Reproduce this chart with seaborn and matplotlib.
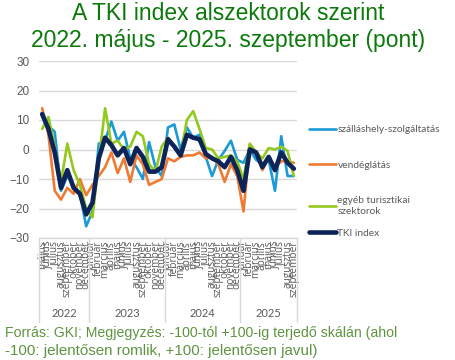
import numpy as np
import pandas as pd
import matplotlib
matplotlib.use('Agg')
import matplotlib.pyplot as plt
import matplotlib.transforms as mtransforms
from matplotlib.lines import Line2D
import seaborn as sns

# ---------------- data ----------------
month_names = ['január', 'február', 'március', 'április', 'május', 'június',
               'július', 'augusztus', 'szeptember', 'október', 'november', 'december']
years = [2022, 2023, 2024, 2025]
first_month = 5   # 2022. május
last_month = 9    # 2025. szeptember

szallashely = [12, 8, 6, -14, -9, -12, -15, -26, -21,
               2, 3, 9.5, 3, 6, -3, -6, -10, 2.5, -6, -9,
               7.5, 8.5, 0, 7.5, 4, 5, -2.5, -9, -3.5, -0.5, 3, -3.5,
               -4.5, 0, -3.5, -5, -3.5, -14, 4.5, -9, -9]
vendeglatas = [14, 5, -14, -17, -13, -15, -10, -15.5, -12,
               -9, -6, -1, -8, -3, -11, -2, -5, -12, -11, -10,
               -3, -4, -2.5, -2, -2, -1, -3, -2.5, -5, -11, -5, -9,
               -21, 1.5, -1, -7, -2.5, -6, -4, -4, -4.5]
egyeb = [7, 11, 1, -11, 2, -7, -12, -20, -23,
         -4, 14, 2, 3, 0, 1, 6, 4.5, -5, -7.5, 1,
         4, 1, -2, 10, 13, 7, 0.5, 0, -3, -2.5, -2, -4,
         -10, 2, -1, -3, 0.5, 0, 1, -0.5, -9]
tki = [12, 7, -1, -13, -7, -13, -15, -22, -18,
       -3, 4, 1.5, -2, 0.5, -5, 0.5, -2.5, -7.5, -7.5, -6,
       3.5, 1, -2, 5, 4, 3.5, -1.5, -3, -4, -6, -2.5, -7,
       -14, 0, -1, -6, -2.5, -7, -1, -4.5, -6.5]

series_names = ['szálláshely-szolgáltatás', 'vendéglátás',
                'egyéb turisztikai\nszektorok', 'TKI index']
y_ticks = [30, 20, 10, 0, -10, -20, -30]
title_lines = ['A TKI index alszektorok szerint',
               '2022. május - 2025. szeptember (pont)']
note_lines = ['Forrás: GKI; Megjegyzés: -100-tól +100-ig terjedő skálán (ahol',
              '-100: jelentősen romlik, +100: jelentősen javul)']

# ---------------- style ----------------
colors = ['#1C9AD6', '#EF7B32', '#93C91F', '#0C2457']
widths = [1.9, 1.9, 1.9, 3.3]
grey_txt = '#595959'
grid_col = '#D9D9D9'

sns.set_style('white')
plt.rcParams['font.family'] = ['Lato', 'DejaVu Sans']

# month / year sequence
labels, label_years = [], []
for y in years:
    start = first_month if y == years[0] else 1
    end = last_month if y == years[-1] else 12
    for m in range(start, end + 1):
        labels.append(month_names[m - 1])
        label_years.append(y)
n = len(labels)
idx = np.arange(n)

df = pd.DataFrame({'idx': idx,
                   series_names[0]: szallashely,
                   series_names[1]: vendeglatas,
                   series_names[2]: egyeb,
                   series_names[3]: tki})

fig = plt.figure(figsize=(4.56, 3.6), dpi=100)
W, H = 456, 360
ax = fig.add_axes([39 / W, 1 - 238 / H, 258 / W, 177 / H])

for name, c, w in zip(series_names, colors, widths):
    sns.lineplot(data=df, x='idx', y=name, ax=ax, color=c, linewidth=w,
                 label=name)

ax.set_ylim(-30, 30)
ax.set_yticks(y_ticks)
ax.set_xlim(-0.5, n - 0.5)
ax.set_xticks(idx)
ax.set_xticklabels(labels, rotation=90, fontsize=7.3, color=grey_txt,
                   family=['Open Sans', 'DejaVu Sans'])
ax.tick_params(axis='x', length=0, pad=2)
ax.tick_params(axis='y', length=0, pad=7, labelsize=8.5, labelcolor=grey_txt)
for lab in ax.get_yticklabels():
    lab.set_fontfamily(['Liberation Sans', 'DejaVu Sans'])
ax.set_xlabel('')
ax.set_ylabel('')
ax.grid(axis='y', color=grid_col, linewidth=1.0)
ax.grid(axis='x', visible=False)
ax.set_axisbelow(True)
for s in ['top', 'right', 'left']:
    ax.spines[s].set_visible(False)
ax.spines['bottom'].set_color(grid_col)
ax.spines['bottom'].set_linewidth(1.0)

# year groups: separators and labels
trans = mtransforms.blended_transform_factory(ax.transData, ax.transAxes)
bounds = [-0.5]
for y in years:
    bounds.append(bounds[-1] + label_years.count(y))
for b in bounds:
    ax.add_line(Line2D([b, b], [0, -0.475], transform=trans, color=grid_col,
                       linewidth=1.0, clip_on=False))
for i, y in enumerate(years):
    ax.text((bounds[i] + bounds[i + 1]) / 2, -0.424, str(y), transform=trans,
            ha='center', va='center', fontsize=8, color=grey_txt)

# legend (two blocks to reproduce the reference spacing)
handles, leg_labels = ax.get_legend_handles_labels()
if ax.get_legend():
    ax.get_legend().remove()
leg_kw = dict(bbox_transform=fig.transFigure, frameon=False, fontsize=7.3,
              handlelength=2.7, handletextpad=0.1, borderaxespad=0, borderpad=0)
leg1 = ax.legend(handles[:3], leg_labels[:3], loc='upper left',
                 bbox_to_anchor=(309 / W, 1 - 125 / H), labelspacing=2.6,
                 **leg_kw)
ax.add_artist(leg1)
leg2 = ax.legend(handles[3:], leg_labels[3:], loc='center left',
                 bbox_to_anchor=(309 / W, 1 - 233 / H), **leg_kw)
for lg in (leg1, leg2):
    for t in lg.get_texts():
        t.set_color(grey_txt)
        t.set_linespacing(1.35)

# title and note
title_col = '#0B7A0B'
for k, yy in enumerate([14, 41]):
    fig.text(0.5, 1 - yy / H, title_lines[k], ha='center', va='center',
             fontsize=16.5, color=title_col,
             family=['Liberation Sans', 'DejaVu Sans'])
note_col = '#5E9440'
fig.text(5 / W, 1 - 333 / H, note_lines[0], ha='left', va='center',
         fontsize=10.2, color=note_col, family=['Liberation Sans', 'DejaVu Sans'])
fig.text(5 / W, 1 - 351 / H, note_lines[1], ha='left', va='center',
         fontsize=10.9, color=note_col, family=['Liberation Sans', 'DejaVu Sans'])

fig.savefig('out.png', dpi=100)
